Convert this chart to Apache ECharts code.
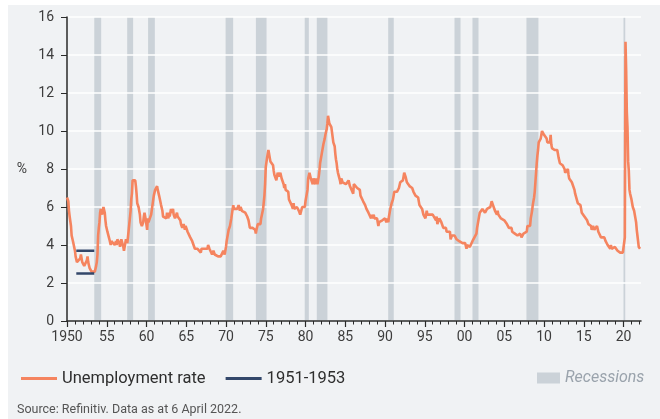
<!DOCTYPE html>
<html>
<head>
<meta charset="utf-8">
<script src="https://cdn.jsdelivr.net/npm/echarts@6/dist/echarts.min.js"></script>
<style>
html,body{margin:0;padding:0;background:#fff}
#panel{position:absolute;left:8px;top:5px;width:652px;height:414px;background:#f0f2f4}
#chart{position:absolute;left:0;top:0;width:660px;height:419px}
</style>
</head>
<body>
<div id="panel"></div>
<div id="chart"></div>
<script>
/* Tasa de desempleo EE.UU., mensual desde ene-1950 */
const START_YEAR = 1950;
const unrate = [
  6.5,6.4,6.3,5.8,5.5,5.4,5.0,4.5,4.4,4.2,4.2,4.3,   // 1950
  3.7,3.4,3.4,3.1,3.0,3.2,3.1,3.1,3.3,3.5,3.5,3.1,   // 1951
  3.2,3.1,2.9,2.9,3.0,3.0,3.2,3.4,3.1,3.0,2.8,2.7,   // 1952
  2.9,2.6,2.6,2.7,2.5,2.5,2.6,2.7,2.9,3.1,3.5,4.5,   // 1953
  4.9,5.2,5.7,5.9,5.9,5.6,5.8,6.0,6.1,5.7,5.3,5.0,   // 1954
  4.9,4.7,4.6,4.7,4.3,4.2,4.0,4.2,4.1,4.3,4.2,4.2,   // 1955
  4.0,3.9,4.2,4.0,4.3,4.3,4.4,4.1,3.9,3.9,4.3,4.2,   // 1956
  4.2,3.9,3.7,3.9,4.1,4.3,4.2,4.1,4.4,4.5,5.1,5.2,   // 1957
  5.8,6.4,6.7,7.4,7.4,7.3,7.5,7.4,7.1,6.7,6.2,6.2,   // 1958
  6.0,5.9,5.6,5.2,5.1,5.0,5.1,5.2,5.5,5.7,5.8,5.3,   // 1959
  5.2,4.8,5.4,5.2,5.1,5.4,5.5,5.6,5.5,6.1,6.1,6.6,   // 1960
  6.6,6.9,6.9,7.0,7.1,6.9,7.0,6.6,6.7,6.5,6.1,6.0,   // 1961
  5.8,5.5,5.6,5.6,5.5,5.5,5.4,5.7,5.6,5.4,5.7,5.5,   // 1962
  5.7,5.9,5.7,5.7,5.9,5.6,5.6,5.4,5.5,5.5,5.7,5.5,   // 1963
  5.6,5.4,5.4,5.3,5.1,5.2,4.9,5.0,5.1,5.1,4.8,5.0,   // 1964
  4.9,5.1,4.7,4.8,4.6,4.6,4.4,4.4,4.3,4.2,4.1,4.0,   // 1965
  4.0,3.8,3.8,3.8,3.9,3.8,3.8,3.8,3.7,3.7,3.6,3.8,   // 1966
  3.9,3.8,3.8,3.8,3.8,3.9,3.8,3.8,3.8,4.0,3.9,3.8,   // 1967
  3.7,3.8,3.7,3.5,3.5,3.7,3.7,3.5,3.4,3.4,3.4,3.4,   // 1968
  3.4,3.4,3.4,3.4,3.4,3.5,3.5,3.5,3.7,3.7,3.5,3.5,   // 1969
  3.9,4.2,4.4,4.6,4.8,4.9,5.0,5.1,5.4,5.5,5.9,6.1,   // 1970
  5.9,5.9,6.0,5.9,5.9,5.9,6.0,6.1,6.0,5.8,6.0,6.0,   // 1971
  5.8,5.7,5.8,5.7,5.7,5.7,5.6,5.6,5.5,5.6,5.3,5.2,   // 1972
  4.9,5.0,4.9,5.0,4.9,4.9,4.8,4.8,4.8,4.6,4.8,4.9,   // 1973
  5.1,5.2,5.1,5.1,5.1,5.4,5.5,5.5,5.9,6.0,6.6,7.2,   // 1974
  8.1,8.1,8.6,8.8,9.0,8.8,8.6,8.4,8.4,8.4,8.3,8.2,   // 1975
  7.9,7.7,7.6,7.7,7.4,7.6,7.8,7.8,7.6,7.7,7.8,7.8,   // 1976
  7.5,7.6,7.4,7.2,7.0,7.2,6.9,7.0,6.8,6.8,6.8,6.4,   // 1977
  6.4,6.3,6.3,6.1,6.0,5.9,6.2,5.9,6.0,5.8,5.9,6.0,   // 1978
  5.9,5.9,5.8,5.8,5.6,5.7,5.7,6.0,5.9,6.0,5.9,6.0,   // 1979
  6.3,6.3,6.3,6.9,7.5,7.6,7.8,7.7,7.5,7.5,7.5,7.2,   // 1980
  7.5,7.4,7.4,7.2,7.5,7.5,7.2,7.4,7.6,7.9,8.3,8.5,   // 1981
  8.6,8.9,9.0,9.3,9.4,9.6,9.8,9.8,10.1,10.4,10.8,10.8, // 1982
  10.4,10.4,10.3,10.2,10.1,10.1,9.4,9.5,9.2,8.8,8.5,8.3, // 1983
  8.0,7.8,7.8,7.7,7.4,7.2,7.5,7.5,7.3,7.4,7.2,7.3,   // 1984
  7.3,7.2,7.2,7.3,7.2,7.4,7.4,7.1,7.1,7.1,7.0,7.0,   // 1985
  6.7,7.2,7.2,7.1,7.2,7.2,7.0,6.9,7.0,7.0,6.9,6.6,   // 1986
  6.6,6.6,6.6,6.3,6.3,6.2,6.1,6.0,5.9,6.0,5.8,5.7,   // 1987
  5.7,5.7,5.7,5.4,5.6,5.4,5.4,5.6,5.4,5.4,5.3,5.3,   // 1988
  5.4,5.2,5.0,5.2,5.2,5.3,5.2,5.2,5.3,5.3,5.4,5.4,   // 1989
  5.4,5.3,5.2,5.4,5.4,5.2,5.5,5.7,5.9,5.9,6.2,6.3,   // 1990
  6.4,6.6,6.8,6.7,6.9,6.9,6.8,6.9,6.9,7.0,7.0,7.3,   // 1991
  7.3,7.4,7.4,7.4,7.6,7.8,7.7,7.6,7.6,7.3,7.4,7.4,   // 1992
  7.3,7.1,7.0,7.1,7.1,7.0,6.9,6.8,6.7,6.8,6.6,6.5,   // 1993
  6.6,6.6,6.5,6.4,6.1,6.1,6.1,6.0,5.9,5.8,5.6,5.5,   // 1994
  5.6,5.4,5.4,5.8,5.6,5.6,5.7,5.7,5.6,5.5,5.6,5.6,   // 1995
  5.6,5.5,5.5,5.6,5.6,5.3,5.5,5.1,5.2,5.2,5.4,5.4,   // 1996
  5.3,5.2,5.2,5.1,4.9,5.0,4.9,4.8,4.9,4.7,4.6,4.7,   // 1997
  4.6,4.6,4.7,4.3,4.4,4.5,4.5,4.5,4.6,4.5,4.4,4.4,   // 1998
  4.3,4.4,4.2,4.3,4.2,4.3,4.3,4.2,4.2,4.1,4.1,4.0,   // 1999
  4.0,4.1,4.0,3.8,4.0,4.0,4.0,4.1,3.9,3.9,3.9,3.9,   // 2000
  4.2,4.2,4.3,4.4,4.3,4.5,4.6,4.9,5.0,5.3,5.5,5.7,   // 2001
  5.7,5.7,5.7,5.9,5.8,5.8,5.8,5.7,5.7,5.7,5.9,6.0,   // 2002
  5.8,5.9,5.9,6.0,6.1,6.3,6.2,6.1,6.1,6.0,5.8,5.7,   // 2003
  5.7,5.6,5.8,5.6,5.6,5.6,5.5,5.4,5.4,5.5,5.4,5.4,   // 2004
  5.3,5.4,5.2,5.2,5.1,5.0,5.0,4.9,5.0,5.0,5.0,4.9,   // 2005
  4.7,4.8,4.7,4.7,4.6,4.6,4.7,4.7,4.5,4.4,4.5,4.4,   // 2006
  4.6,4.5,4.4,4.5,4.4,4.6,4.7,4.6,4.7,4.7,4.7,5.0,   // 2007
  5.0,4.9,5.1,5.0,5.4,5.6,5.8,6.1,6.1,6.5,6.8,7.3,   // 2008
  7.8,8.3,8.7,9.0,9.4,9.5,9.5,9.6,9.8,10.0,9.9,9.9,  // 2009
  9.8,9.8,9.9,9.9,9.6,9.4,9.4,9.5,9.5,9.4,9.8,9.3,   // 2010
  9.1,9.0,9.0,9.1,9.0,9.1,9.0,9.0,9.0,8.8,8.6,8.5,   // 2011
  8.3,8.3,8.2,8.2,8.2,8.2,8.2,8.0,7.8,7.8,7.7,7.9,   // 2012
  8.0,7.7,7.5,7.6,7.5,7.5,7.3,7.2,7.2,7.2,6.9,6.7,   // 2013
  6.6,6.7,6.7,6.2,6.3,6.1,6.2,6.1,5.9,5.7,5.8,5.6,   // 2014
  5.7,5.5,5.4,5.4,5.6,5.3,5.2,5.1,5.0,5.0,5.1,5.0,   // 2015
  4.8,4.9,5.0,5.1,4.8,4.9,4.8,4.9,5.0,4.9,4.7,4.7,   // 2016
  4.7,4.6,4.4,4.4,4.4,4.3,4.3,4.4,4.3,4.2,4.2,4.1,   // 2017
  4.0,4.1,4.0,4.0,3.8,4.0,3.8,3.8,3.7,3.8,3.8,3.9,   // 2018
  4.0,3.8,3.8,3.7,3.6,3.6,3.7,3.6,3.5,3.6,3.6,3.6,   // 2019
  3.5,3.5,4.4,14.7,13.2,11.0,10.2,8.4,7.9,6.9,6.7,6.7, // 2020
  6.4,6.2,6.0,6.1,5.8,5.9,5.4,5.2,4.8,4.5,4.2,3.9,   // 2021
  4.0,3.8                                            // 2022
];
// recesiones (inicio, fin) en años decimales
const recessions = [
  [1953.43,1954.3],[1957.57,1958.32],[1960.2,1961.05],[1969.95,1970.9],
  [1973.76,1975.1],[1979.9,1980.42],[1981.42,1982.76],[1990.4,1991.1],
  [1998.74,1999.5],[2001.0,2001.76],[2007.79,2009.3],[2020.0,2020.22]
];
// rango 1951-1953
const rangeX = [1951.17, 1953.43];
const rangeHigh = 3.7, rangeLow = 2.5;
const minorYears = [...Array(73).keys()].map(i=>1950+i);
const majorYears = [1950,1955,1960,1965,1970,1975,1980,1985,1990,1995,2000,2005,2010,2015,2020];
const tickLabels = ["1950","55","60","65","70","75","80","85","90","95","00","05","10","15","20"];

const NARANJA = "#f5845f", AZUL = "#33476a", GRIS = "#cbd2d8", TXT = "#3d3d3d";
const FONT = "Roboto, 'Noto Sans', sans-serif";

const serie = unrate.map((v,i)=>[START_YEAR + i/12, v]);
const lblOf = v => tickLabels[majorYears.indexOf(Math.round(v))] || "";

const chart = echarts.init(document.getElementById("chart"), null, {renderer:"canvas"});
chart.setOption({
  animation:false,
  textStyle:{fontFamily:FONT, color:TXT},
  grid:{left:67, right:19, top:17, bottom:98},
  legend:[
    {left:16, top:365, itemWidth:36, itemHeight:3, itemGap:20, icon:"rect",
     textStyle:{fontSize:16.5, color:"#2e2e2e", fontFamily:FONT},
     data:["Unemployment rate","1951-1953"]},
    {left:532, top:365, itemWidth:23, itemHeight:11, icon:"rect",
     textStyle:{fontSize:16, color:"#9aa3ac", fontStyle:"italic", fontFamily:FONT},
     data:["Recessions"]}
  ],
  xAxis:[
    {type:"value", min:1950, max:2022.2, z:4,
     axisLine:{show:true, lineStyle:{color:"#2a2a2a", width:1.5}},
     axisTick:{show:true, length:3.5, customValues:minorYears, lineStyle:{color:"#2a2a2a", width:1}},
     axisLabel:{show:false}, splitLine:{show:false}},
    {type:"value", min:1950, max:2022.2, position:"bottom", z:4,
     axisLine:{show:false},
     axisTick:{show:true, length:6, customValues:majorYears, lineStyle:{color:"#2a2a2a", width:1.2}},
     axisLabel:{show:true, customValues:majorYears, formatter:lblOf, fontSize:14, color:TXT, margin:9, fontFamily:FONT},
     splitLine:{show:false}}
  ],
  yAxis:{type:"value", min:0, max:16, interval:2, z:2,
    name:"%", nameLocation:"middle", nameRotate:0, nameGap:40,
    nameTextStyle:{fontSize:14, color:TXT, fontFamily:FONT},
    axisLine:{show:true, lineStyle:{color:"#2a2a2a", width:1.5}},
    axisTick:{show:true, length:6, lineStyle:{color:"#2a2a2a", width:1}},
    axisLabel:{fontSize:14, color:TXT, margin:13, fontFamily:FONT},
    splitLine:{show:true, lineStyle:{color:"#ffffff", width:1.5}}},
  series:[
    {name:"Recessions", type:"custom", z:1, xAxisIndex:0, yAxisIndex:0,
     itemStyle:{color:GRIS}, data:recessions, encode:{x:[0,1]},
     renderItem:(p,api)=>{
       const a = api.coord([api.value(0),16]), b = api.coord([api.value(1),0]);
       return {type:"rect", shape:{x:a[0], y:a[1], width:b[0]-a[0], height:b[1]-a[1]}, style:{fill:GRIS}};
     }},
    {name:"Unemployment rate", type:"line", z:3, data:serie, showSymbol:false, symbol:"none",
     lineStyle:{color:NARANJA, width:2.6}, itemStyle:{color:NARANJA}},
    {name:"1951-1953", type:"line", z:3, data:[[rangeX[0],rangeHigh],[rangeX[1],rangeHigh]], symbol:"none",
     lineStyle:{color:AZUL, width:2.5}, itemStyle:{color:AZUL}},
    {name:"1951-1953", type:"line", z:3, data:[[rangeX[0],rangeLow],[rangeX[1],rangeLow]], symbol:"none",
     lineStyle:{color:AZUL, width:2.5}, itemStyle:{color:AZUL}}
  ],
  graphic:[
    {type:"text", left:17, top:403, style:{text:"Source: Refinitiv. Data as at 6 April 2022.", fill:"#555", fontSize:12.5, fontFamily:FONT}}
  ]
});
</script>
</body>
</html>
